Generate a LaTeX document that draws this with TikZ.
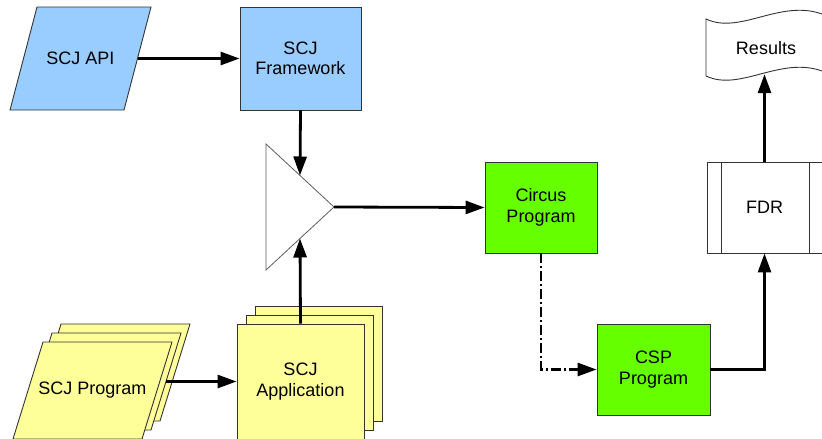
\documentclass[tikz,border=0pt]{standalone}
\usepackage{fontspec}
\setmainfont{Liberation Sans}
\usetikzlibrary{arrows.meta,calc}

\definecolor{skyfill}{HTML}{99CCFF}
\definecolor{paleyellow}{HTML}{FFFF99}
\definecolor{limefill}{HTML}{66FF00}
\definecolor{edgegray}{HTML}{333333}

\tikzset{
  label font/.style={font=\fontsize{18}{20.5}\selectfont},
  block/.style={draw=edgegray, line width=0.9pt, align=center, inner sep=0pt,
    label font},
  textonly/.style={align=center, inner sep=0pt, label font},
  outline/.style={draw=edgegray, line width=0.9pt},
  conn/.style={line width=2.8pt, -{Triangle[length=19pt,width=13pt]}},
  dashdotconn/.style={conn, dash pattern=on 10pt off 3pt on 2pt off 3pt},
  tri/.style={draw=edgegray!80, line width=0.8pt, fill=white},
}

\begin{document}
\begin{tikzpicture}[x=1pt, y=-1pt]
\useasboundingbox (0,0) rectangle (822,439);

% SCJ API (parallelogram) and SCJ Framework
\draw[outline, fill=skyfill] (37,7) -- (151,7) -- (124,110) -- (10,110) -- cycle;
\node[textonly] (api) at (80.5,58.5) {SCJ API};
\coordinate (apiR) at (137.5,58.5);
\node[block, fill=skyfill, minimum width=121pt, minimum height=103pt]
      (fw) at (300.5,58.5) {SCJ\\Framework};

% stacked SCJ Program sheets (back, middle, front)
\foreach \d in {18,9,0}
  \draw[outline, fill=paleyellow, shift={(\d,-\d)}]
    (43,342) -- (172,342) -- (142,439) -- (13,439) -- cycle;
\node[textonly] (prog) at (92.5,390.5) {SCJ Program};
\coordinate (progR) at (166,381.5);

% stacked SCJ Application sheets
\node[block, fill=paleyellow, minimum width=127pt, minimum height=115pt]
      (appB) at (318.5,363.5) {};
\node[block, fill=paleyellow, minimum width=127pt, minimum height=115pt]
      (appM) at (309.5,372.5) {};
\node[block, fill=paleyellow, minimum width=127pt, minimum height=115pt]
      (app) at (300.5,381.5) {SCJ\\Application};

% merge triangle
\coordinate (triTL) at (266,144);
\coordinate (triBL) at (266,270);
\coordinate (triTip) at (334,207);
\draw[tri] (triTL) -- (triTip) -- (triBL) -- cycle;
\coordinate (triTop) at ($(triTL)!0.5!(triTip)$);
\coordinate (triBot) at ($(triBL)!0.5!(triTip)$);

% Circus and CSP
\node[block, fill=limefill, minimum width=112pt, minimum height=91pt]
      (circus) at (541,207.5) {Circus\\Program};
\node[block, fill=limefill, minimum width=113pt, minimum height=91pt]
      (csp) at (653.5,369.5) {CSP\\Program};

% FDR with side bars
\node[block, fill=white, minimum width=115pt, minimum height=91pt]
      (fdr) at (764.5,207.5) {FDR};
\draw[edgegray, line width=0.8pt]
  ([xshift=15pt]fdr.north west) -- ([xshift=15pt]fdr.south west)
  ([xshift=-13pt]fdr.north east) -- ([xshift=-13pt]fdr.south east);

% Results tape
\draw[outline, fill=white]
  (706,19) .. controls (740,35) and (780,-1) .. (822,14) -- (830,13)
  -- (830,70) -- (822,71) .. controls (780,56) and (740,92) .. (706,76) -- cycle;
\node[textonly, minimum width=120pt, minimum height=52pt]
      (res) at (766,48) {Results};

% connectors
\draw[conn] (apiR) -- (fw.west);
\draw[conn] (fw.south) -- (triTop);
\draw[conn] (app.north) -- (triBot);
\draw[conn] (progR) -- (app.west);
\draw[conn] (triTip) -- (circus.west);
\draw[dashdotconn] (circus.south) |- (csp.west);
\draw[conn] (csp.east) -| (fdr.south);
\draw[conn] (fdr.north) -- (fdr.north |- res.south);
\end{tikzpicture}
\end{document}
